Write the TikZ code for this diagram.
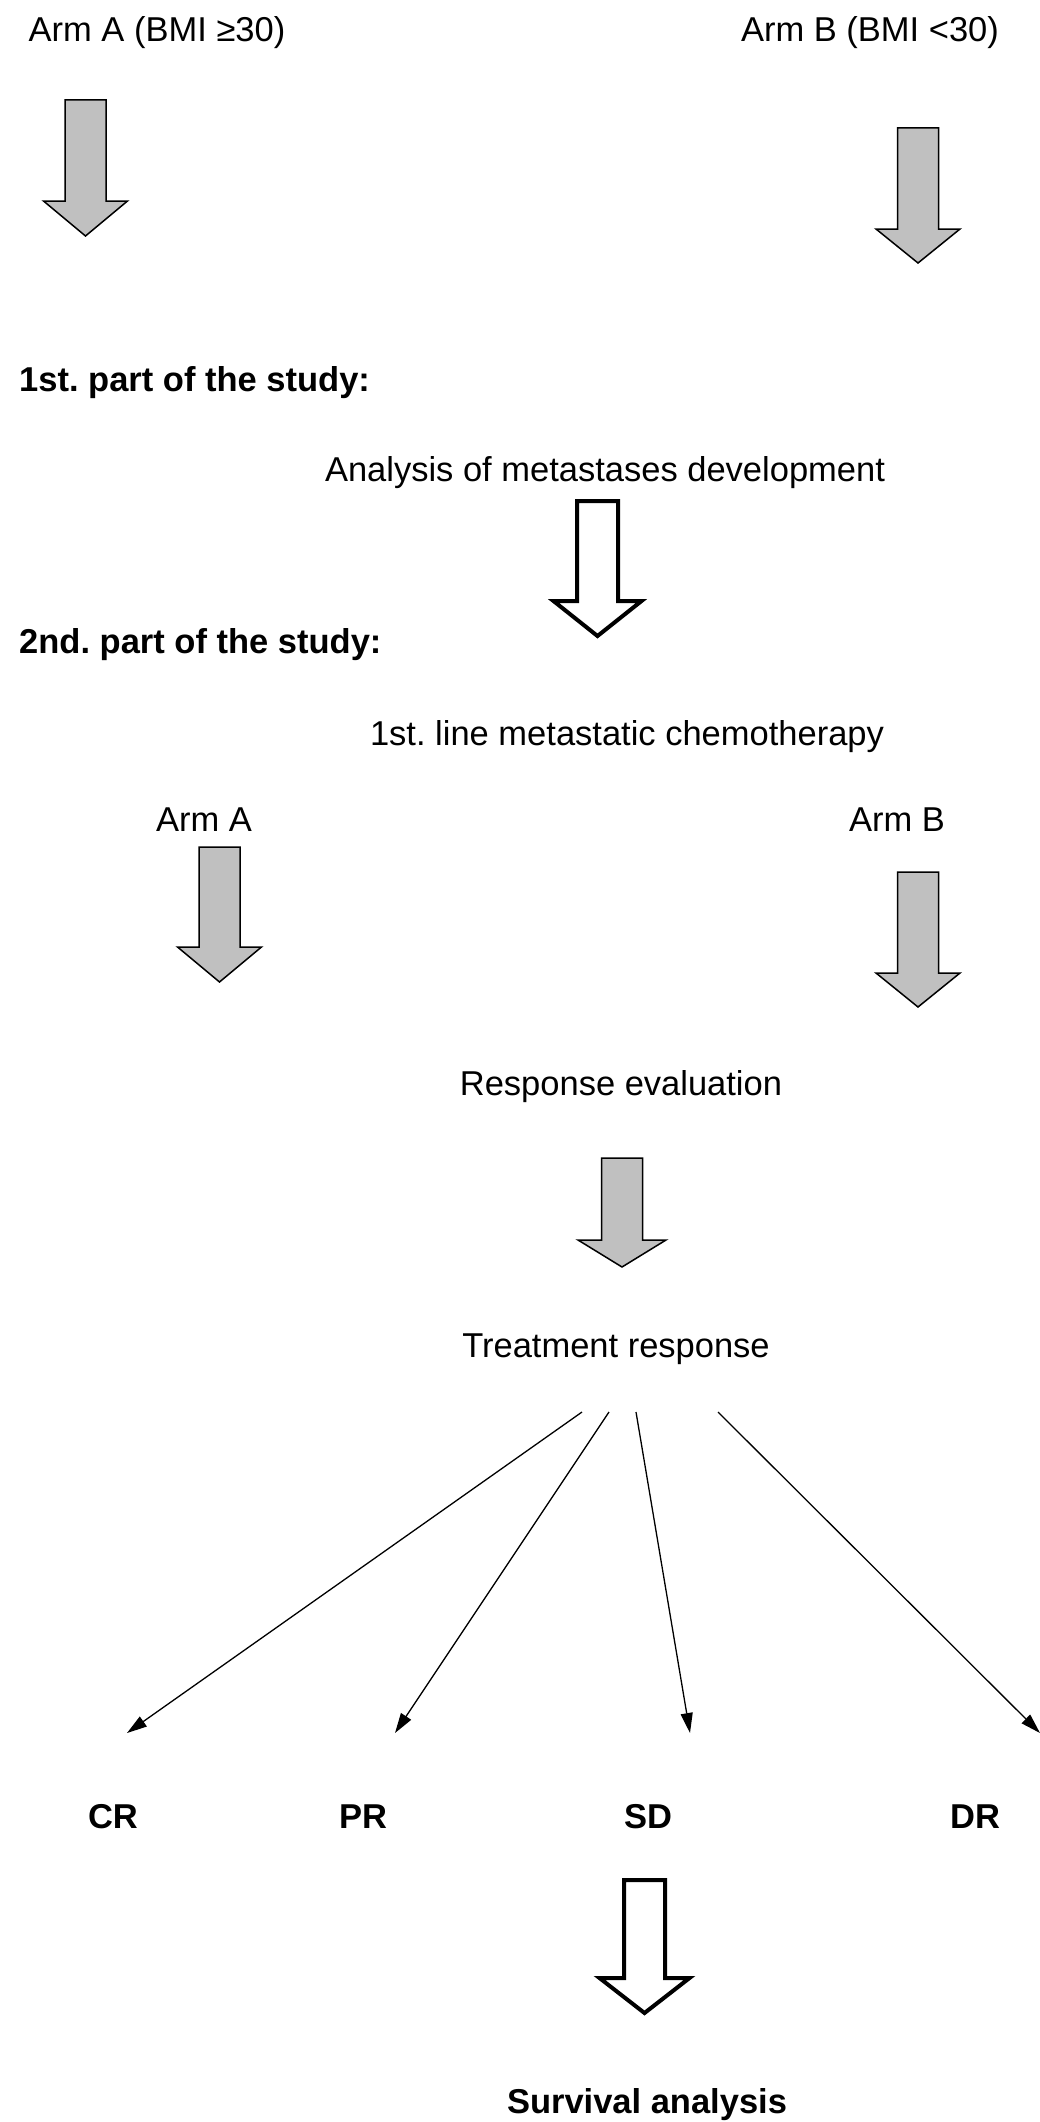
\documentclass[tikz,border=0pt]{standalone}
\usepackage{fontspec}
\setmainfont{Liberation Sans}
\usepackage{tikz}
\usetikzlibrary{positioning,arrows.meta}
\definecolor{armgray}{RGB}{192,192,192}
\frenchspacing

\begin{document}
\begin{tikzpicture}[x=1pt,y=-1pt,
            font=\fontsize{34.5}{41}\selectfont,
            every node/.style={inner sep=0pt,anchor=base},
            head/.style={anchor=base west,font=\fontsize{34.5}{41}\selectfont\bfseries},
            resp/.style={font=\fontsize{34.5}{41}\selectfont\bfseries},
            grayarr/.style={draw=black,fill=armgray,line width=1.5pt},
            whitearr/.style={draw=black,fill=white,line width=4pt,miter limit=10},
            thinarr/.style={draw,line width=1.3pt,-{Triangle[length=20pt,width=12pt]}},
            pics/blockarrow/.style args={#1/#2/#3}{code={
              \draw[pic actions] (-20.5,0) -- (-20.5,#1) -- (-#3,#1) -- (0,#2)
                -- (#3,#1) -- (20.5,#1) -- (20.5,0) -- cycle;}}]
        \useasboundingbox (0,0) rectangle (1040,2122);
        % arms
        \node (armA) at (157,42) {Arm A (BMI ≥30)};
        \node (armB) at (870,42) {Arm B (BMI <30)};
        \pic[grayarr] at (85.5,100) {blockarrow={101/136/42}};
        \pic[grayarr] at (918,128) {blockarrow={101/135/42}};
        % first part
        \node[head] (part1) at (19,391) {1st. part of the study:};
        \node (analysis) at (605,481) {Analysis of metastases development};
        \pic[whitearr] at (597.5,501) {blockarrow={100/135/44}};
        % second part
        \node[head] (part2) at (19,653) {2nd. part of the study:};
        \node (chemo) at (627,745) {1st. line metastatic chemotherapy};
        \node (chemoA) at (204,831) {Arm A};
        \node (chemoB) at (897,831) {Arm B};
        \pic[grayarr] at (219.5,847) {blockarrow={100/135/42}};
        \pic[grayarr] at (918,872) {blockarrow={101/135/42}};
        \node (evaluation) at (621,1095) {Response evaluation};
        \pic[grayarr] at (622,1158) {blockarrow={82/109/44}};
        \node (treatment) at (616,1357) {Treatment response};
        % responses
        \node[resp] (cr) at (113,1828) {CR};
        \node[resp] (pr) at (363,1828) {PR};
        \node[resp] (sd) at (648,1828) {SD};
        \node[resp] (dr) at (975,1828) {DR};
        \coordinate (t-cr) at (582,1412);
        \coordinate (t-pr) at (609,1412);
        \coordinate (t-sd) at (636,1412);
        \coordinate (t-dr) at (718,1412);
        \coordinate (cr-in) at (127,1733);
        \coordinate (pr-in) at (395,1733);
        \coordinate (sd-in) at (690,1733);
        \coordinate (dr-in) at (1040,1733);
        \draw[thinarr] (t-cr) -- (cr-in);
        \draw[thinarr] (t-pr) -- (pr-in);
        \draw[thinarr] (t-sd) -- (sd-in);
        \draw[thinarr] (t-dr) -- (dr-in);
        \pic[whitearr] at (644.5,1880) {blockarrow={98/133/45}};
        \node[resp] (survival) at (647,2113) {Survival analysis};
\end{tikzpicture}
\end{document}
